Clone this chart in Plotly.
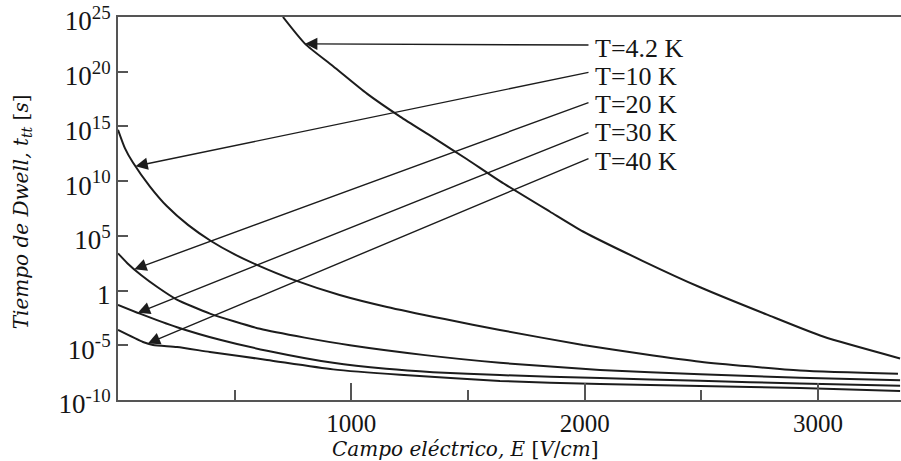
import numpy as np
import plotly.graph_objects as go

# ---- data (E in V/cm, dwell time in s) ----
e_42 = [707, 802, 922, 1067, 1209, 1350, 1496, 1637, 1852, 1993, 2250, 2495, 2782, 3022, 3352]
t_42 = [1e25, 3.5e22, 3.2e20, 1.0e18, 8.0e15, 1.0e14, 1.0e12, 1.0e10, 1.6e7, 2.5e5, 5.0e2, 2.0, 6.3e-3, 6.3e-5, 6.3e-7]

e_10 = [0, 30, 64, 137, 210, 300, 400, 500, 600, 750, 950, 1153, 1400, 1637, 1993, 2250, 2495, 2923, 3343]
t_10 = [5.0e14, 1.0e13, 5.0e11, 3.2e9, 5.0e7, 1.0e6, 3.2e4, 2.0e3, 2.0e2, 10, 0.4, 3.2e-2, 2.5e-3, 2.5e-4, 1.07e-5, 1.6e-6, 3.2e-7, 5.0e-8, 2.5e-8]

e_20 = [0, 40, 100, 170, 250, 394, 609, 800, 994, 1316, 1637, 2066, 2495, 2923, 3352]
t_20 = [2.5e3, 3.2e2, 25, 2.0, 0.16, 7.9e-3, 3.2e-4, 5.0e-5, 1.0e-5, 1.26e-6, 2.5e-7, 5.6e-8, 2.2e-8, 1.1e-8, 6.3e-9]

e_30 = [0, 94, 253, 437, 639, 922, 1150, 1350, 1637, 2066, 2495, 2923, 3352]
t_30 = [5.0e-2, 7.9e-3, 4.5e-4, 3.2e-5, 3.2e-6, 2.5e-7, 7.1e-8, 3.5e-8, 1.9e-8, 1.0e-8, 5.6e-9, 3.2e-9, 2.0e-9]

e_40 = [0, 107, 150, 253, 394, 639, 922, 1209, 1637, 2066, 2495, 2923, 3352]
t_40 = [2.5e-4, 2.0e-5, 1.07e-5, 6.9e-6, 2.45e-6, 4.6e-7, 6.3e-8, 2.0e-8, 5.5e-9, 2.9e-9, 1.9e-9, 1.26e-9, 6.6e-10]

series_labels = ["T=4.2 K", "T=10 K", "T=20 K", "T=30 K", "T=40 K"]
series_e = [e_42, e_10, e_20, e_30, e_40]
series_t = [t_42, t_10, t_20, t_30, t_40]
# field at which each arrow touches its curve
arrow_e = [802, 75, 70, 85, 128]

y_tickvals = [1e-10, 1e-5, 1, 1e5, 1e10, 1e15, 1e20, 1e25]
y_ticktext = ["10<sup>-10</sup>", "10<sup>-5</sup>", "1", "10<sup>5</sup>",
              "10<sup>10</sup>", "10<sup>15</sup>", "10<sup>20</sup>", "10<sup>25</sup>"]
x_tickvals = [1000, 2000, 3000]
x_ticktext = ["1000", "2000", "3000"]

x_title = "<i>Campo eléctrico, E</i> [<i>V</i>/<i>cm</i>]"
y_title = "<i>Tiempo de Dwell, t</i><sub><i>tt</i></sub> [<i>s</i>]"

# ---- layout constants ----
LINE_COLOR = "#1c1c1c"
AXIS_COLOR = "#555555"
TEXT_COLOR = "#151515"
SERIF = "Liberation Serif"
TITLE_FONT = "DejaVu Serif"
label_x = 2036                       # left edge of the labels (data x)
label_logy = [22.08, 19.52, 16.96, 14.40, 11.84]
tail_x = 2023
tail_logy = [22.44, 19.97, 17.23, 14.49, 12.12]

fig = go.Figure()
for e, t, name in zip(series_e, series_t, series_labels):
    fig.add_trace(go.Scatter(x=e, y=t, mode="lines", name=name,
                             line=dict(color=LINE_COLOR, width=2, shape="spline", smoothing=0.6),
                             showlegend=False))

annotations = []
for i, name in enumerate(series_labels):
    e = np.array(series_e[i], dtype=float)
    lt = np.log10(np.array(series_t[i], dtype=float))
    tip_logy = float(np.interp(arrow_e[i], e, lt))
    annotations.append(dict(x=arrow_e[i], y=tip_logy, xref="x", yref="y",
                            ax=tail_x, ay=tail_logy[i], axref="x", ayref="y",
                            text="", showarrow=True, arrowhead=2, arrowsize=1.75,
                            arrowwidth=1.4, arrowcolor=LINE_COLOR, standoff=0))
    annotations.append(dict(x=label_x, y=label_logy[i], xref="x", yref="y",
                            text=name, showarrow=False, xanchor="left", yanchor="middle",
                            font=dict(family=SERIF, size=26, color=TEXT_COLOR)))

annotations.append(dict(text=x_title, xref="paper", yref="paper", x=0.444, y=-0.128,
                        xanchor="center", yanchor="middle", showarrow=False,
                        font=dict(family=TITLE_FONT, size=20, color="#111111")))
annotations.append(dict(text=y_title, xref="paper", yref="paper", x=-0.1226, y=0.49,
                        xanchor="center", yanchor="middle", showarrow=False, textangle=-90,
                        font=dict(family=TITLE_FONT, size=20, color="#111111")))

fig.update_layout(
    width=901, height=461,
    margin=dict(l=118, r=0, t=17, b=61, autoexpand=False),
    paper_bgcolor="white", plot_bgcolor="white",
    annotations=annotations,
    xaxis=dict(range=[0, 3356], tickvals=x_tickvals, ticktext=x_ticktext,
               ticks="inside", ticklen=17, tickwidth=2, tickcolor=AXIS_COLOR,
               minor=dict(ticks="inside", dtick=500, tick0=0, ticklen=10, tickwidth=2,
                          tickcolor=AXIS_COLOR, showgrid=False),
               showline=True, linecolor=AXIS_COLOR, linewidth=2, mirror=True,
               showgrid=False, zeroline=False, automargin=False,
               ticklabeloverflow="allow",
               tickfont=dict(family=SERIF, size=25, color=TEXT_COLOR)),
    yaxis=dict(type="log", range=[-10, 25], tickvals=y_tickvals, ticktext=y_ticktext,
               ticks="inside", ticklen=10, tickwidth=2, tickcolor=AXIS_COLOR,
               showline=True, linecolor=AXIS_COLOR, linewidth=2, mirror=False,
               showgrid=False, zeroline=False, automargin=False,
               ticklabeloverflow="allow", ticklabelshift=4,
               tickfont=dict(family=SERIF, size=27, color=TEXT_COLOR)),
)

fig.write_html("out.html", config={"displayModeBar": False},
               post_script="document.body.style.margin='0';")
